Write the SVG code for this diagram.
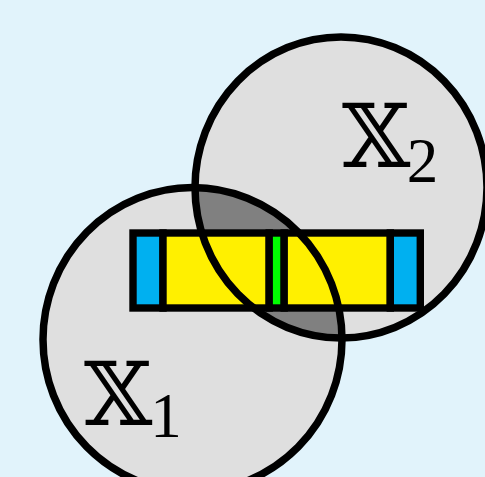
<svg xmlns="http://www.w3.org/2000/svg" width="485" height="477" viewBox="0 0 485 477">
<style>
.bg{fill:#e1f3fb}
.set{fill:#dfdfdf}
.ring{fill:none;stroke:#000;stroke-width:7.5}
.cell{stroke:#000;stroke-width:7.4}
.blue{fill:#00b0f0}
.yel{fill:#fff000}
.grn{fill:#00ff00}
.bb{font-family:"DejaVu Serif","Liberation Serif",serif;font-size:88px;fill:#000}
.sub{font-family:"Liberation Serif","DejaVu Serif",serif;font-size:63px;fill:#000}
</style>
<defs>
<clipPath id="c1"><ellipse cx="192.5" cy="339.5" rx="149.5" ry="152"/></clipPath>
</defs>
<rect class="bg" x="0" y="0" width="485" height="477"/>
<g id="X1">
<ellipse class="set" cx="192.5" cy="339.5" rx="149.5" ry="152"/>
</g>
<g id="X2">
<ellipse class="set" cx="341" cy="187.5" rx="146" ry="150.5"/>
</g>
<g id="intersection">
<ellipse cx="341" cy="187.5" rx="146" ry="150.5" fill="#808080" clip-path="url(#c1)"/>
</g>
<g id="bar">
<rect class="cell blue" x="133" y="233" width="30" height="75"/>
<rect class="cell yel" x="163" y="233" width="106.2" height="75"/>
<rect class="cell grn" x="269.2" y="233" width="15" height="75"/>
<rect class="cell yel" x="284.2" y="233" width="106.1" height="75"/>
<rect class="cell blue" x="390.3" y="233" width="30" height="75"/>
</g>
<g id="outlines">
<ellipse class="ring" cx="192.5" cy="339.5" rx="149.5" ry="152"/>
<ellipse class="ring" cx="341" cy="187.5" rx="146" ry="150.5"/>
</g>
<g id="labels">
<text class="bb" x="84" y="425">𝕏</text>
<text class="sub" x="166" y="437" text-anchor="middle">1</text>
<text class="bb" x="342" y="166.5">𝕏</text>
<text class="sub" x="422.5" y="181.5" text-anchor="middle">2</text>
</g>
</svg>
